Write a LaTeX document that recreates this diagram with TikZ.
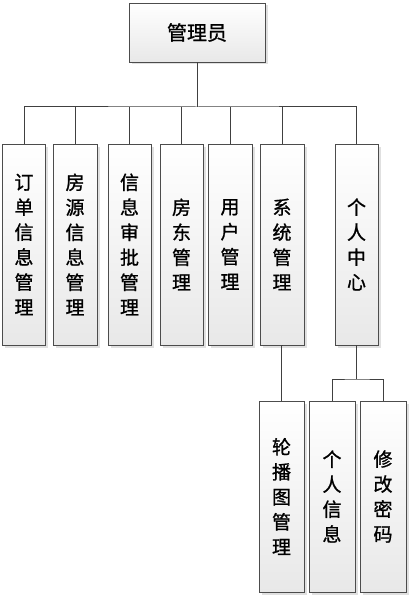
\documentclass[tikz,border=0pt]{standalone}
\usepackage{fontspec}
\newfontfamily\cjk[FakeBold=1]{Noto Sans CJK SC}
\usetikzlibrary{shadows}
\tikzset{
  modbox/.style={draw=black!70, line width=0.8pt, top color=white, bottom color=black!9,
    drop shadow={shadow xshift=2.5pt, shadow yshift=-2.5pt, fill=black!12, opacity=1},
    align=center, inner sep=0pt, font=\cjk\fontsize{19}{25}\selectfont},
  link/.style={draw=black!75, line width=1pt}
}
\begin{document}
\begin{tikzpicture}[x=1pt, y=-1pt]
    \useasboundingbox (0,0) rectangle (411,599);

    % Wurzel
    \node[modbox, minimum width=136pt, minimum height=59pt,
      font=\cjk\fontsize{20}{25}\selectfont] (admin) at (197,32.5) {管理员};

    % zweite Ebene
    \node[modbox, minimum width=43pt, minimum height=201pt] (order) at (24,244.5) {订\\单\\信\\息\\管\\理};
    \node[modbox, minimum width=44pt, minimum height=201pt] (house) at (75,244.5) {房\\源\\信\\息\\管\\理};
    \node[modbox, minimum width=43pt, minimum height=201pt] (audit) at (129.5,244.5) {信\\息\\审\\批\\管\\理};
    \node[modbox, minimum width=43pt, minimum height=201pt] (owner) at (181.5,244.5) {房\\东\\管\\理};
    \node[modbox, minimum width=44pt, minimum height=201pt] (user) at (230,244.5) {用\\户\\管\\理};
    \node[modbox, minimum width=44pt, minimum height=201pt] (sys) at (282,244.5) {系\\统\\管\\理};
    \node[modbox, minimum width=43pt, minimum height=201pt] (center) at (356.5,244.5) {个\\人\\中\\心};

    % dritte Ebene
    \node[modbox, minimum width=45pt, minimum height=191pt] (banner) at (281.5,496.5) {轮\\播\\图\\管\\理};
    \node[modbox, minimum width=46pt, minimum height=191pt] (info) at (332,496.5) {个\\人\\信\\息};
    \node[modbox, minimum width=46pt, minimum height=191pt] (pwd) at (383,496.5) {修\\改\\密\\码};

    % Verbindungen
    \coordinate (bus) at (197,107);
    \draw[link] (admin.south) -- (bus);
    \draw[link] (order.north) |- (bus) -| (center.north);
    \foreach \n in {house,audit,owner,user,sys}
      \draw[link] (\n.north) -- (\n.north |- bus);
    \draw[link] (sys.south) -- (sys.south -| banner.north) -- (banner.north);
    \coordinate (sub) at (356.5,379);
    \draw[link] (center.south) -- (sub);
    \draw[link] (info.north) |- (sub) -| (pwd.north);
\end{tikzpicture}
\end{document}
